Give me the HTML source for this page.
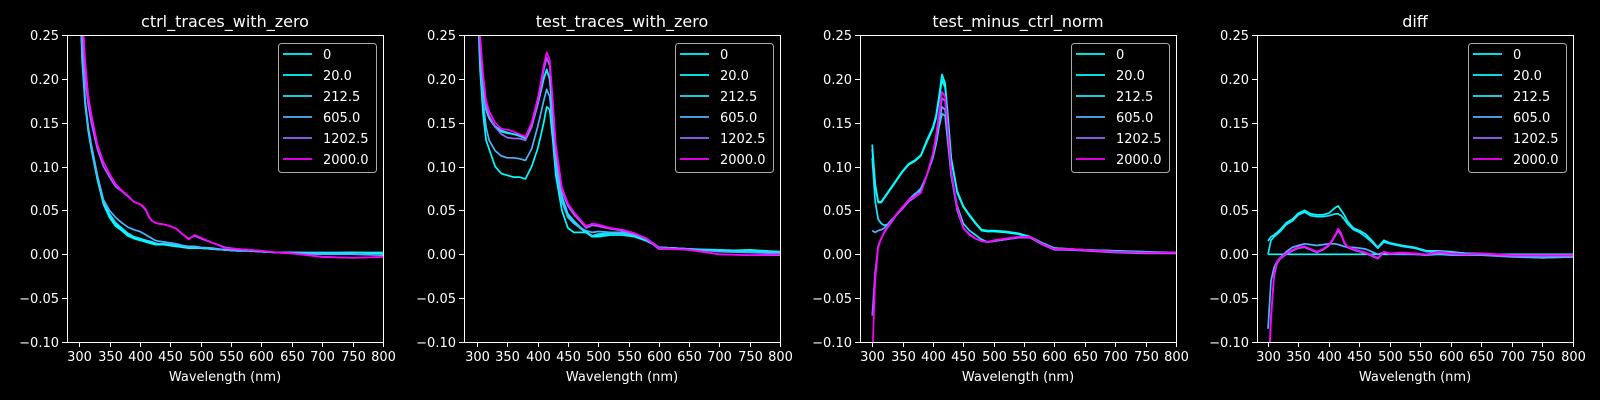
<!DOCTYPE html>
<html><head><meta charset="utf-8"><style>
html,body{margin:0;padding:0;background:#000;}
svg{display:block;font-family:"DejaVu Sans","Liberation Sans",sans-serif;}
</style></head><body>
<svg id="fig" width="1600" height="400" viewBox="0 0 1600 400" xmlns="http://www.w3.org/2000/svg">
<rect width="1600" height="400" fill="#000"/>
</svg>
<script>
const wavelengths = [300,305,310,315,320,330,340,350,360,370,380,390,400,405,410,415,420,425,430,440,450,460,470,480,490,500,520,540,560,580,600,625,650,700,750,800];
const seriesLabels = ["0","20.0","212.5","605.0","1202.5","2000.0"];
const panelTitles = ["ctrl_traces_with_zero","test_traces_with_zero","test_minus_ctrl_norm","diff"];
const xTicks = [300,350,400,450,500,550,600,650,700,750,800];
const yTicks = [0.25,0.20,0.15,0.10,0.05,0.00,-0.05,-0.10];
const yTickLabels = ["0.25","0.20","0.15","0.10","0.05","0.00","\u22120.05","\u22120.10"];

const ctrl0 = [0.32,0.22,0.17,0.14,0.12,0.085,0.057,0.042,0.032,0.027,0.021,0.018,0.016,0.015,0.014,0.013,0.012,0.011,0.011,0.011,0.010,0.009,0.008,0.007,0.007,0.007,0.006,0.005,0.004,0.004,0.003,0.002,0.002,0.001,0.002,0.001];
const ctrl20 = [0.32,0.225,0.172,0.142,0.122,0.088,0.059,0.044,0.034,0.029,0.023,0.019,0.017,0.016,0.015,0.014,0.013,0.012,0.012,0.011,0.010,0.009,0.009,0.008,0.007,0.007,0.006,0.005,0.004,0.004,0.003,0.002,0.002,0.001,0.002,0.001];
const ctrl212 = [0.32,0.23,0.174,0.143,0.123,0.089,0.06,0.046,0.036,0.03,0.024,0.02,0.018,0.017,0.016,0.015,0.014,0.013,0.012,0.012,0.011,0.010,0.009,0.008,0.008,0.007,0.006,0.005,0.004,0.004,0.003,0.002,0.002,0.002,0.002,0.002];
const ctrl605 = [0.32,0.23,0.175,0.145,0.125,0.09,0.062,0.05,0.042,0.036,0.031,0.028,0.026,0.024,0.022,0.02,0.018,0.016,0.015,0.014,0.013,0.012,0.01,0.009,0.009,0.008,0.007,0.005,0.004,0.004,0.003,0.002,0.001,0.0,0.0,-0.001];
const ctrl1202 = [0.34,0.26,0.2,0.17,0.15,0.12,0.1,0.088,0.077,0.072,0.066,0.06,0.057,0.054,0.05,0.042,0.038,0.036,0.035,0.034,0.032,0.029,0.023,0.018,0.021,0.018,0.013,0.008,0.006,0.005,0.004,0.002,0.001,-0.003,-0.004,-0.003];
const ctrl2000 = [0.36,0.28,0.22,0.18,0.16,0.125,0.105,0.092,0.08,0.073,0.067,0.06,0.057,0.055,0.051,0.043,0.038,0.036,0.035,0.034,0.032,0.029,0.023,0.017,0.022,0.019,0.013,0.007,0.006,0.005,0.004,0.002,0.001,-0.003,-0.004,-0.003];

const test0 = [0.3,0.21,0.16,0.13,0.12,0.1,0.092,0.09,0.088,0.088,0.086,0.1,0.12,0.135,0.15,0.168,0.165,0.13,0.09,0.05,0.03,0.025,0.025,0.025,0.02,0.02,0.022,0.022,0.02,0.015,0.008,0.007,0.006,0.004,0.005,0.003];
const test20 = [0.32,0.23,0.19,0.165,0.155,0.145,0.14,0.138,0.137,0.135,0.132,0.145,0.17,0.185,0.2,0.21,0.2,0.16,0.11,0.065,0.045,0.037,0.03,0.025,0.02,0.022,0.024,0.024,0.022,0.016,0.008,0.007,0.006,0.004,0.004,0.002];
const test212 = [0.32,0.23,0.19,0.166,0.156,0.146,0.141,0.139,0.137,0.136,0.133,0.146,0.171,0.186,0.2,0.211,0.2,0.16,0.112,0.066,0.046,0.038,0.031,0.026,0.021,0.023,0.024,0.024,0.022,0.016,0.008,0.007,0.006,0.005,0.004,0.003];
const test605 = [0.32,0.22,0.175,0.145,0.13,0.118,0.112,0.11,0.11,0.109,0.107,0.12,0.145,0.16,0.175,0.188,0.18,0.145,0.1,0.06,0.042,0.035,0.03,0.027,0.025,0.026,0.025,0.025,0.023,0.018,0.008,0.007,0.006,0.003,0.002,0.001];
const test1202 = [0.34,0.24,0.2,0.17,0.158,0.145,0.137,0.133,0.132,0.132,0.13,0.145,0.172,0.19,0.21,0.224,0.215,0.17,0.12,0.072,0.055,0.045,0.038,0.03,0.033,0.032,0.029,0.027,0.023,0.017,0.006,0.006,0.005,0.0,-0.001,-0.001];
const test2000 = [0.35,0.25,0.205,0.175,0.163,0.15,0.143,0.142,0.14,0.137,0.134,0.15,0.177,0.195,0.215,0.23,0.222,0.175,0.125,0.076,0.058,0.048,0.04,0.032,0.035,0.034,0.03,0.028,0.024,0.018,0.007,0.006,0.005,0.0,-0.001,0.0];

const norm0 = [0.125,0.08,0.06,0.06,0.065,0.075,0.085,0.095,0.103,0.107,0.113,0.13,0.145,0.158,0.18,0.205,0.195,0.155,0.11,0.072,0.055,0.045,0.036,0.028,0.027,0.027,0.026,0.024,0.02,0.013,0.007,0.006,0.005,0.004,0.002,0.002];
const norm20 = [0.12,0.078,0.059,0.059,0.064,0.074,0.084,0.094,0.102,0.106,0.112,0.128,0.143,0.155,0.176,0.199,0.19,0.152,0.108,0.07,0.054,0.044,0.035,0.027,0.026,0.026,0.025,0.023,0.019,0.012,0.007,0.006,0.005,0.004,0.003,0.002];
const norm212 = [0.11,0.06,0.04,0.035,0.033,0.035,0.045,0.053,0.06,0.068,0.075,0.09,0.11,0.125,0.145,0.16,0.158,0.125,0.09,0.055,0.035,0.027,0.022,0.017,0.014,0.015,0.017,0.019,0.02,0.012,0.006,0.005,0.005,0.003,0.002,0.002];
const norm605 = [0.027,0.025,0.027,0.028,0.03,0.038,0.045,0.052,0.062,0.069,0.072,0.09,0.113,0.13,0.15,0.168,0.165,0.13,0.09,0.05,0.03,0.023,0.018,0.015,0.014,0.015,0.017,0.019,0.02,0.012,0.006,0.005,0.005,0.003,0.002,0.002];
const norm1202 = [-0.07,-0.02,0.01,0.018,0.025,0.035,0.045,0.052,0.06,0.065,0.07,0.09,0.113,0.13,0.155,0.178,0.175,0.135,0.093,0.052,0.03,0.022,0.018,0.015,0.014,0.015,0.017,0.019,0.019,0.011,0.005,0.005,0.004,0.002,0.001,0.001];
const norm2000 = [-0.12,-0.03,0.008,0.018,0.026,0.036,0.046,0.054,0.062,0.066,0.07,0.09,0.115,0.135,0.16,0.185,0.18,0.14,0.095,0.053,0.03,0.023,0.018,0.015,0.014,0.016,0.018,0.02,0.02,0.012,0.006,0.006,0.005,0.003,0.002,0.002];

const diff0 = [0,0,0,0,0,0,0,0,0,0,0,0,0,0,0,0,0,0,0,0,0,0,0,0,0,0,0,0,0,0,0,0,0,0,0,0];
const diff20 = [0.015,0.02,0.022,0.025,0.028,0.036,0.04,0.047,0.05,0.046,0.045,0.045,0.047,0.05,0.053,0.055,0.05,0.045,0.038,0.03,0.027,0.023,0.016,0.008,0.016,0.013,0.01,0.008,0.004,0.004,0.003,0.001,0.001,-0.002,-0.004,-0.002];
const diff212 = [0.0,0.016,0.02,0.023,0.026,0.034,0.038,0.045,0.048,0.044,0.043,0.043,0.044,0.045,0.046,0.046,0.044,0.04,0.035,0.028,0.025,0.02,0.014,0.007,0.014,0.012,0.009,0.007,0.003,0.003,0.002,0.001,0.0,-0.002,-0.004,-0.003];
const diff605 = [-0.085,-0.03,-0.015,-0.008,-0.004,0.003,0.008,0.01,0.012,0.011,0.01,0.011,0.012,0.012,0.012,0.011,0.01,0.009,0.008,0.008,0.007,0.006,0.003,0.0,0.002,0.001,0.0,0.0,-0.001,0.0,-0.001,-0.001,-0.001,-0.003,-0.004,-0.003];
const diff1202 = [-0.15,-0.07,-0.025,-0.01,-0.005,0.0,0.004,0.007,0.008,0.005,0.002,0.005,0.01,0.015,0.021,0.027,0.022,0.013,0.008,0.005,0.003,0.001,-0.002,-0.005,0.002,0.0,0.001,0.0,-0.001,0.002,0.0,-0.001,0.0,-0.002,-0.002,-0.002];
const diff2000 = [-0.16,-0.075,-0.022,-0.008,-0.004,0.001,0.005,0.008,0.009,0.006,0.003,0.006,0.011,0.016,0.022,0.029,0.024,0.014,0.009,0.006,0.004,0.002,-0.001,-0.004,0.003,0.001,0.002,0.001,0.0,0.003,0.001,0.0,0.001,-0.001,-0.001,-0.001];

const panelSeries = [
  [ctrl0,ctrl20,ctrl212,ctrl605,ctrl1202,ctrl2000],
  [test0,test20,test212,test605,test1202,test2000],
  [norm0,norm20,norm212,norm605,norm1202,norm2000],
  [diff0,diff20,diff212,diff605,diff1202,diff2000]
];
const colors = ["#00ffff","#03fcff","#1be4ff","#4db2ff","#9966ff","#ff00ff"];
const panelLeft = [67,464,860,1257];
const panelXmin = [280,278.5,280,282];
const W = 316, TOP = 35, BOT = 342, XMAX = 800, YMIN = -0.10, YMAX = 0.25;

const svg = document.getElementById('fig');
const NS = 'http://www.w3.org/2000/svg';
function mk(tag, attrs, parent){ const e = document.createElementNS(NS, tag); for (const k in attrs) e.setAttribute(k, attrs[k]); (parent||svg).appendChild(e); return e; }

panelTitles.forEach((title, p) => {
  const L = panelLeft[p], R = L + W, xmin = panelXmin[p];
  const xs = v => L + (v - xmin) / (XMAX - xmin) * W;
  const ys = v => TOP + (YMAX - v) / (YMAX - YMIN) * (BOT - TOP);
  const g = mk('g', {});
  
  
  const defs = mk('defs', {}, g);
  const cp = mk('clipPath', {id: 'clip' + p}, defs);
  mk('rect', {x: L, y: TOP, width: W, height: BOT - TOP}, cp);
  const sg = mk('g', {'clip-path': 'url(#clip' + p + ')'}, g);
  
  
  panelSeries[p].forEach((arr, s) => {
    const d = arr.map((v, i) => (i ? 'L' : 'M') + xs(wavelengths[i]).toFixed(1) + ',' + ys(v).toFixed(1)).join('');
    const path = mk('path', {d: d, fill: 'none', stroke: colors[s], 'stroke-width': 1.7, 'stroke-linejoin': 'round'}, sg);
    
    
  });
  const fr = mk('rect', {x: L + 0.5, y: TOP + 0.5, width: W, height: BOT - TOP, fill: 'none', stroke: '#fff', 'stroke-width': 1}, g);
  
  
  xTicks.forEach(t => {
    const x = Math.round(xs(t)) + 0.5;
    mk('line', {x1: x, x2: x, y1: BOT, y2: BOT + 5, stroke: '#fff', 'stroke-width': 1}, g);
    const tx = mk('text', {x: x, y: BOT + 19, fill: '#fff', 'font-size': 13, 'text-anchor': 'middle'}, g);
    
    
    tx.textContent = String(t);
  });
  yTicks.forEach((t, i) => {
    const y = Math.round(ys(t)) + 0.5;
    mk('line', {x1: L - 5, x2: L, y1: y, y2: y, stroke: '#fff', 'stroke-width': 1}, g);
    const ty = mk('text', {x: L - 8, y: y + 4.5, fill: '#fff', 'font-size': 13, 'text-anchor': 'end'}, g);
    
    
    ty.textContent = yTickLabels[i];
  });
  const xl = mk('text', {x: L + W/2, y: BOT + 39, fill: '#fff', 'font-size': 13, 'text-anchor': 'middle'}, g);
  
  
  xl.textContent = 'Wavelength (nm)';
  const tt = mk('text', {x: L + W/2, y: 27, fill: '#fff', 'font-size': 16, 'text-anchor': 'middle'}, g);
  
  
  tt.textContent = title;
  const lg = mk('g', {}, g);
  
  
  const bx = R - 105;
  mk('rect', {x: bx + 0.5, y: 43.5, width: 98, height: 129, rx: 3, fill: '#000', 'fill-opacity': 0.8, stroke: '#aaa', 'stroke-width': 1}, lg);
  seriesLabels.forEach((lab, s) => {
    const y = 54 + s * 21;
    const e = mk('g', {}, lg);
    
    
    mk('line', {x1: bx + 5, x2: bx + 34, y1: y, y2: y, stroke: colors[s], 'stroke-width': 1.7}, e);
    const t = mk('text', {x: bx + 45, y: y + 5, fill: '#fff', 'font-size': 13}, e);
    t.textContent = lab;
  });
});
</script>
</body></html>
